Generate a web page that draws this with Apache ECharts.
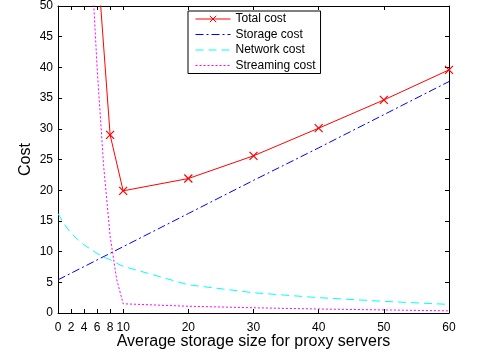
<!DOCTYPE html>
<html>
<head>
<meta charset="utf-8">
<script src="https://cdn.jsdelivr.net/npm/echarts@6/dist/echarts.min.js"></script>
<style>
  html, body { margin: 0; padding: 0; background: #fff; }
  #chart { width: 480px; height: 358px; }
</style>
</head>
<body>
<div id="chart"></div>
<script>
// Cost components versus average proxy storage size
const xTicks = [0, 2, 4, 6, 8, 10, 20, 30, 40, 50, 60];
const yTicks = [0, 5, 10, 15, 20, 25, 30, 35, 40, 45, 50];

const totalX = [6, 8, 10, 20, 30, 40, 50, 60];
const totalCost = [58, 29.0, 19.9, 21.9, 25.6, 30.1, 34.7, 39.6];

const storageX = [0, 10, 20, 30, 40, 50, 60];
const storageCost = [5.4, 10.8, 16.2, 21.6, 26.9, 32.3, 37.7];

const networkX = [0, 1, 2, 3, 4, 5, 6, 7, 8, 9, 10, 20, 30, 40, 50, 60];
const networkCost = [16.2, 14.4, 13.0, 12.0, 11.1, 10.4, 9.7, 9.1, 8.7, 8.1, 7.6, 4.6, 3.3, 2.5, 1.9, 1.4];

const streamingX = [5, 6, 7, 8, 9, 10, 20, 30, 40, 50, 60];
const streamingCost = [60, 40, 24, 12.5, 5.5, 1.5, 1.1, 0.85, 0.65, 0.5, 0.35];

const pairs = (xs, ys) => xs.map((x, i) => [x, ys[i]]);

const FONT = 'Liberation Sans, Arial, sans-serif';
const RED = '#ff0000', BLUE = '#0000ff', CYAN = '#00ffff', MAGENTA = '#ff00ff';
const chart = echarts.init(document.getElementById('chart'), null, { renderer: 'canvas' });

const baseAxis = {
  type: 'value',
  axisLine: { show: true, onZero: false, lineStyle: { color: '#000', width: 1 } },
  splitLine: { show: false }
};

// legend entries for plain lines: hide the marker, keep the line sample
const plainEntry = (name, color, type) => ({
  name,
  itemStyle: { color, opacity: 0 },
  lineStyle: { color, width: 1, type }
});

chart.setOption({
  animation: false,
  backgroundColor: '#fff',
  textStyle: { fontFamily: FONT, color: '#000' },
  grid: { left: 58, right: 31, top: 5, bottom: 45 },
  legend: {
    orient: 'vertical',
    left: 188,
    top: 11,
    padding: [2, 5, 2, 7],
    itemWidth: 35,
    itemHeight: 8,
    itemGap: 3.5,
    borderColor: '#000',
    borderWidth: 1,
    backgroundColor: '#fff',
    lineStyle: { width: 1 },
    textStyle: { fontFamily: FONT, fontSize: 12, color: '#000' },
    data: [
      { name: 'Total cost', itemStyle: { color: RED, borderColor: RED, borderWidth: 1 }, lineStyle: { color: RED, width: 1 } },
      plainEntry('Storage cost', BLUE, [8, 3, 2, 3]),
      plainEntry('Network cost', CYAN, [8, 5]),
      plainEntry('Streaming cost', MAGENTA, [2, 2])
    ]
  },
  xAxis: [
    Object.assign({}, baseAxis, {
      position: 'bottom',
      min: 0, max: 60, interval: 2,
      name: 'Average storage size for proxy servers',
      nameLocation: 'middle',
      nameGap: 21,
      nameMoveOverlap: false,
      nameTextStyle: { fontFamily: FONT, fontSize: 16, color: '#000' },
      axisTick: { show: true, inside: true, length: 4, customValues: xTicks, lineStyle: { color: '#000' } },
      axisLabel: { show: true, margin: 9, fontFamily: FONT, fontSize: 12, color: '#000', customValues: xTicks }
    }),
    Object.assign({}, baseAxis, {
      position: 'top',
      min: 0, max: 60, interval: 2,
      axisTick: { show: true, inside: true, length: 4, customValues: xTicks, lineStyle: { color: '#000' } },
      axisLabel: { show: false }
    })
  ],
  yAxis: [
    Object.assign({}, baseAxis, {
      position: 'left',
      min: 0, max: 50, interval: 5,
      name: 'Cost',
      nameLocation: 'middle',
      nameGap: 24,
      nameMoveOverlap: false,
      nameTextStyle: { fontFamily: FONT, fontSize: 16, color: '#000' },
      axisTick: { show: true, inside: true, length: 4, customValues: yTicks, lineStyle: { color: '#000' } },
      axisLabel: { show: true, margin: 5, fontFamily: FONT, fontSize: 12, color: '#000', customValues: yTicks }
    }),
    Object.assign({}, baseAxis, {
      position: 'right',
      min: 0, max: 50, interval: 5,
      axisTick: { show: true, inside: true, length: 4, customValues: yTicks, lineStyle: { color: '#000' } },
      axisLabel: { show: false }
    })
  ],
  series: [
    {
      name: 'Total cost',
      type: 'line',
      data: pairs(totalX, totalCost),
      symbol: 'path://M0 0L10 10M10 0L0 10',
      symbolSize: 8,
      showAllSymbol: true,
      clip: true,
      lineStyle: { color: RED, width: 1 },
      itemStyle: { color: RED, borderColor: RED, borderWidth: 1.2 },
      z: 5
    },
    {
      name: 'Storage cost',
      type: 'line',
      data: pairs(storageX, storageCost),
      symbol: 'none',
      clip: true,
      lineStyle: { color: BLUE, width: 1, type: [8, 3, 2, 3] },
      itemStyle: { color: BLUE }
    },
    {
      name: 'Network cost',
      type: 'line',
      data: pairs(networkX, networkCost),
      symbol: 'none',
      clip: true,
      lineStyle: { color: CYAN, width: 1, type: [8, 5] },
      itemStyle: { color: CYAN }
    },
    {
      name: 'Streaming cost',
      type: 'line',
      data: pairs(streamingX, streamingCost),
      symbol: 'none',
      clip: true,
      lineStyle: { color: MAGENTA, width: 1, type: [2, 2] },
      itemStyle: { color: MAGENTA }
    }
  ]
});
</script>
</body>
</html>
